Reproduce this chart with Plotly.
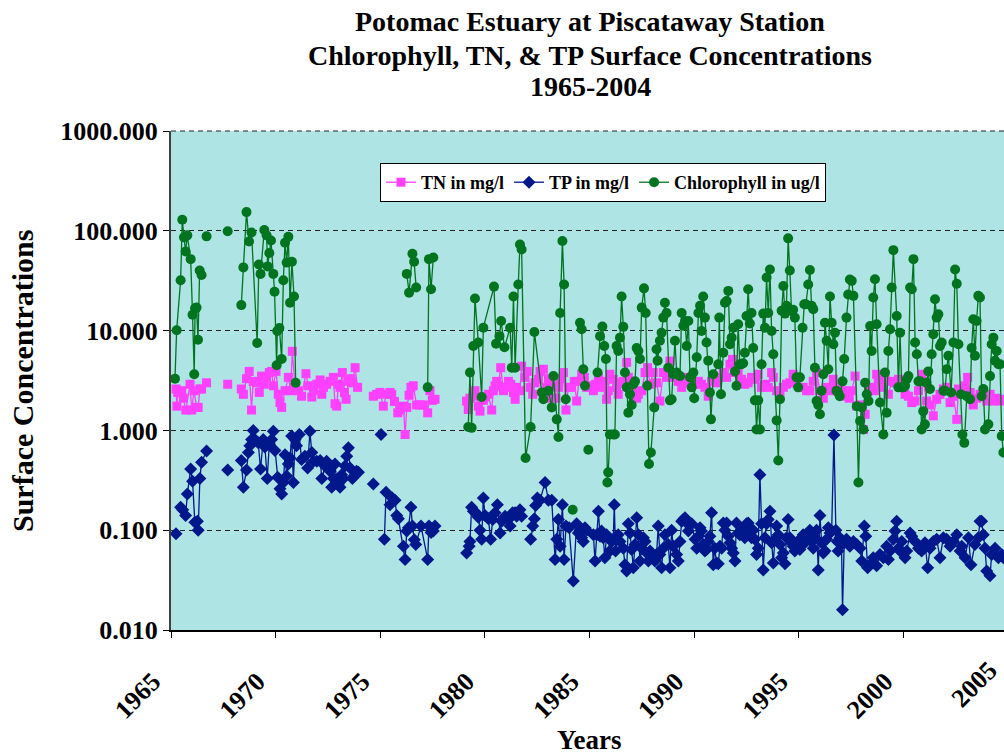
import plotly.graph_objects as go

# ---------------- data ----------------
tn_year = [1965.24, 1965.28, 1965.32, 1965.51, 1965.59, 1965.71, 1965.91, 1965.99, 1966.10, 1966.22, 1966.30, 1966.38, 1966.46, None,
           1966.70, None, 1967.71, None,
           1968.36, 1968.46, 1968.61, 1968.74, 1968.85, 1968.93, 1969.09, 1969.22, 1969.33, 1969.46, 1969.57, 1969.70, 1969.81, 1969.89,
           1970.02, 1970.13, 1970.21, 1970.29, 1970.45, 1970.61, 1970.72, 1970.80, 1970.93, 1971.08, 1971.24, 1971.45, 1971.56, 1971.73,
           1971.81, 1971.97, 1972.13, 1972.21, 1972.29, 1972.44, 1972.60, 1972.76, 1972.84, 1972.92, 1973.00, 1973.08, 1973.19, 1973.29,
           1973.37, 1973.48, 1973.61, 1973.67, 1973.80, 1973.92, None,
           1974.67, 1974.83, 1974.99, 1975.15, 1975.31, 1975.47, 1975.55, 1975.68, 1975.84, 1975.95, 1976.11, 1976.19, 1976.27, 1976.38,
           1976.47, 1976.58, 1976.74, 1976.90, 1977.06, 1977.27, 1977.38, 1977.49, 1977.62, None,
           1979.13, 1979.21, 1979.29, 1979.45, 1979.53, 1979.69, 1979.77, 1979.93, 1980.01, 1980.17, 1980.33, 1980.41, 1980.49, 1980.57,
           1980.65, 1980.76, 1980.89, 1980.97, 1981.13, 1981.24, 1981.37, 1981.45, 1981.52, 1981.68, 1981.76, 1981.92, 1982.03, 1982.16,
           1982.29, 1982.40, 1982.56, 1982.64, 1982.80, 1982.93, 1983.04, 1983.15, 1983.28, 1983.40, 1983.52, 1983.63, 1983.76, 1983.88,
           1983.99, 1984.15, 1984.28,
           1984.39, 1984.50, 1984.63, 1984.76, 1984.87, 1985.03, 1985.19, 1985.30, 1985.43, 1985.58, 1985.71, 1985.82, 1985.90, 1985.98,
           1986.14, 1986.30, 1986.38, 1986.46, 1986.62, 1986.78, 1986.86, 1986.94, 1987.10, 1987.26, 1987.34, 1987.50, 1987.66, 1987.78,
           1987.90, 1988.05, 1988.21, 1988.37, 1988.53, 1988.69, 1988.85, 1988.93, 1989.09, 1989.25, 1989.41, 1989.57, 1989.73, 1989.89,
           1990.05, 1990.21, 1990.36, 1990.52, 1990.68, 1990.84,
           1991.08, 1991.24, 1991.40, 1991.56, 1991.72, 1991.84, 1991.96, 1992.11, 1992.27, 1992.43, 1992.59, 1992.75, 1992.91, 1993.07,
           1993.23, 1993.39, 1993.55, 1993.71, 1993.79, 1993.95, 1994.11, 1994.27, 1994.42, 1994.58, 1994.74, 1994.90, 1995.06, 1995.22,
           1995.38, 1995.54, 1995.70, 1995.86, 1996.02, 1996.18, 1996.34, 1996.50, 1996.66, 1996.81, 1996.97, 1997.13, 1997.29, 1997.42,
           1997.54, 1997.70, 1997.78, 1997.94, 1998.10, 1998.18, 1998.34, 1998.49, 1998.65, 1998.73, 1998.81, 1998.97, 1999.13, 1999.29,
           1999.45, 1999.61, 1999.77, 1999.93, 2000.09, 2000.25, 2000.41, 2000.57, 2000.73, 2000.88, 2000.96, 2001.12, 2001.28, 2001.44,
           2001.60, 2001.76, 2001.92, 2002.08, 2002.24, 2002.40, 2002.56, 2002.64, 2002.80, 2002.96, 2003.08, 2003.20, 2003.35, 2003.51,
           2003.67, 2003.83, 2003.99, 2004.15, 2004.31, 2004.47, 2004.63, 2004.79]
tn_value = [2.6, 1.75, 2.4, 2.5, 2.1, 1.6, 2.9, 1.6, 2.5, 1.7, 1.7, 2.6, 2.6, None,
            3.0, None, 2.9, None,
            2.6, 2.3, 3.3, 3.9, 1.6, 3.1, 3.0, 2.4, 3.5, 2.9, 3.4, 3.8, 3.9, 2.8,
            3.9, 2.3, 1.9, 1.7, 2.5, 3.4, 2.5, 6.2, 2.7, 2.5, 2.2, 3.7, 2.8, 2.16,
            2.5, 2.9, 3.2, 2.3, 2.7, 2.9, 3.1, 3.4, 1.85, 1.75, 2.9, 2.7, 3.8, 2.4,
            2.05, 3.1, 3.3, 3.0, 4.25, 2.7, None,
            2.2, 2.3, 2.4, 1.75, 2.3, 2.4, 2.3, 1.95, 1.5, 1.6, 1.75, 0.91, 1.7, 2.25,
            2.7, 2.8, 1.8, 1.8, 1.8, 1.5, 2.5, 2.0, 2.05, None,
            1.97, 1.62, 2.1, 2.2, 2.5, 1.75, 1.56, 2.0, 2.16, 2.3, 1.6, 2.5, 2.8, 3.1,
            2.8, 4.25, 2.5, 2.7, 3.1, 2.9, 2.4, 2.05, 2.7, 2.5, 4.4, 3.4, 3.9, 2.7,
            2.3, 3.0, 3.25, 3.9, 4.1, 2.7, 3.3, 2.1, 2.8, 2.1, 2.7, 3.3, 3.8, 1.6,
            2.7, 2.7, 3.1,
            1.97, 3.1, 3.65, 3.4, 2.7, 2.8, 2.5, 2.9, 3.4, 2.7, 3.1, 2.05, 2.5, 3.65,
            3.25, 2.7, 2.3, 3.0, 3.1, 4.8, 3.4, 2.9, 2.8, 2.1, 2.3, 2.5, 3.8, 4.25,
            2.9, 3.8, 3.0, 1.97, 3.8, 3.4, 4.95, 3.8, 3.4, 3.1, 2.7, 3.0, 3.4, 3.25,
            2.9, 3.1, 2.9, 2.7, 2.2, 3.1,
            3.0, 3.4, 3.8, 3.4, 4.6, 5.15, 3.8, 3.9, 3.25, 2.9, 3.0, 3.4, 3.25, 3.65,
            2.7, 2.9, 2.7, 3.8, 3.4, 2.5, 2.3, 2.7, 2.9, 3.0, 3.65, 3.1, 2.7, 2.7,
            2.5, 2.5, 3.1, 3.8, 2.5, 2.1, 2.7, 2.5, 3.25, 2.7, 2.5, 2.5, 2.2, 2.1,
            2.5, 3.5, 1.75, 1.8, 1.02, 1.45, 2.5, 2.7, 2.5, 3.65, 3.1, 2.7, 3.25, 2.3,
            3.1, 3.0, 3.25, 2.9, 2.3, 2.2, 1.9, 1.97, 2.5, 3.65, 3.1, 1.97, 1.8, 1.4,
            2.05, 2.3, 2.6, 2.7, 1.9, 2.2, 1.29, 2.6, 2.5, 2.8, 3.4, 2.4, 1.8, 2.1,
            2.3, 2.5, 1.97, 2.3, 1.97, 2.1, 1.97, 2.05]

tp_year = [1965.24, None,
           1965.46, 1965.56, 1965.70, 1965.78, 1965.94, 1966.03, 1966.14, 1966.26, 1966.30, 1966.38, 1966.46, 1966.70, None,
           1967.71, None,
           1968.36, 1968.46, 1968.61, 1968.70, 1968.77, 1968.85, 1968.93, 1969.01, 1969.17, 1969.28, 1969.41, 1969.49, 1969.60, 1969.70,
           1969.81, 1969.89, 1969.97, 1970.10, 1970.21, 1970.29, 1970.37, 1970.45, 1970.53, 1970.61, 1970.69, 1970.77, 1970.85, 1970.93,
           1971.00, 1971.13, 1971.24, 1971.40, 1971.53, 1971.64, 1971.73, 1971.81, 1971.97, 1972.13, 1972.21, 1972.36, 1972.44, 1972.60,
           1972.68, 1972.76, 1972.84, 1972.92, 1973.00, 1973.08, 1973.16, 1973.24, 1973.32, 1973.40, 1973.48, 1973.56, 1973.67, 1973.76,
           1973.87, 1973.96, None, 1974.67, None, 1975.04, None,
           1975.20, 1975.28, 1975.47, 1975.58, 1975.71, 1975.79, 1975.87, 1976.11, 1976.19, 1976.27, 1976.35, 1976.47, 1976.54, 1976.63,
           1976.70, 1976.95, 1977.27, 1977.33, 1977.43, 1977.54, 1977.62, None,
           1979.13, 1979.25, 1979.29, 1979.37, 1979.45, 1979.58, 1979.69, 1979.77, 1979.85, 1979.93, 1980.01, 1980.17, 1980.28, 1980.38,
           1980.49, 1980.60, 1980.73, 1980.81, 1980.97, 1981.13, 1981.21, 1981.33, 1981.45, 1981.52, 1981.68, 1981.76, None,
           1982.19, 1982.29, 1982.37, 1982.43, 1982.51, 1982.64, 1982.88, 1983.04, 1983.20, 1983.36, 1983.44, 1983.52, 1983.60, 1983.71,
           1983.79, 1983.88, 1984.03, 1984.23,
           1984.39, 1984.47, 1984.55, 1984.63, 1984.71, 1984.79, 1984.87, 1985.19, 1985.27, 1985.35, 1985.43, 1985.51, 1985.58, 1985.66,
           1985.74, 1985.82, 1985.90, 1985.98, 1986.06, 1986.14, 1986.19, 1986.25, 1986.38, 1986.46, 1986.62, 1986.70, 1986.78, 1986.86,
           1986.94, 1987.02, 1987.10, 1987.18, 1987.26, 1987.34, 1987.42, 1987.50, 1987.58, 1987.66, 1987.74, 1987.82, 1987.90, 1987.97,
           1988.13, 1988.21, 1988.29, 1988.37, 1988.45, 1988.53, 1988.61, 1988.77, 1988.85, 1988.93, 1989.01, 1989.17, 1989.25, 1989.33,
           1989.41, 1989.49, 1989.57, 1989.65, 1989.73, 1989.89, 1990.05, 1990.13, 1990.21, 1990.29, 1990.36, 1990.44, 1990.52, 1990.60,
           1990.68, 1990.76, 1990.84, 1990.92, 1990.99,
           1991.08, 1991.16, 1991.24, 1991.32, 1991.40, 1991.48, 1991.56, 1991.64, 1991.72, 1991.80, 1991.88, 1991.96, 1992.03, 1992.11,
           1992.19, 1992.27, 1992.35, 1992.43, 1992.51, 1992.59, 1992.67, 1992.75, 1992.83, 1992.91, 1992.99, 1993.07, 1993.15, 1993.23,
           1993.31, 1993.39, 1993.47, 1993.55, 1993.63, 1993.71, 1993.79, 1993.87, 1993.95, 1994.03, 1994.11, 1994.19, 1994.27, 1994.35,
           1994.42, 1994.50, 1994.58, 1994.66, 1994.74, 1994.82, 1994.90, 1994.98, 1995.06, 1995.14, 1995.22, 1995.30, 1995.38, 1995.46,
           1995.54, 1995.62, 1995.70, 1995.78, 1995.86, 1995.94, 1996.02, 1996.10, 1996.18, 1996.26, 1996.34, 1996.42, 1996.50, 1996.58,
           1996.69, 1996.78, 1996.85, 1996.89, 1996.97, 1997.05, 1997.10, 1997.18, 1997.29, 1997.37, 1997.45,
           1997.62, 1997.78, 1997.94, 1998.02, 1998.14, 1998.21, 1998.30, 1998.42, 1998.57, 1998.73, 1998.89, 1999.05, 1999.21, 1999.29,
           1999.37, 1999.53, 1999.61, 1999.69, 1999.77, 1999.85, 1999.93, 2000.09, 2000.17, 2000.33, 2000.41, 2000.57, 2000.73, 2000.88,
           2001.04, 2001.17, 2001.28, 2001.44, 2001.60, 2001.76, 2001.92, 2002.08, 2002.24, 2002.40, 2002.56, 2002.72, 2002.80, 2002.96,
           2003.12, 2003.24, 2003.43, 2003.59, 2003.67, 2003.75, 2003.83, 2003.91, 2003.99, 2004.15, 2004.23, 2004.39, 2004.55, 2004.71,
           2004.79]
tp_value = [0.092, None,
            0.17, 0.16, 0.14, 0.23, 0.41, 0.31, 0.12, 0.123, 0.10, 0.33, 0.48, 0.62, None,
            0.40, None,
            0.50, 0.27, 0.40, 0.60, 0.70, 0.81, 1.0, 0.81, 0.75, 0.41, 0.81, 0.68, 0.33, 0.73,
            0.81, 0.98, 0.63, 0.34, 0.26, 0.23, 0.30, 0.57, 0.35, 0.46, 0.53, 0.88, 0.30, 0.81,
            0.70, 0.91, 0.51, 0.55, 0.42, 0.98, 0.60, 0.49, 0.49, 0.50, 0.33, 0.44, 0.49, 0.39,
            0.27, 0.33, 0.46, 0.30, 0.29, 0.27, 0.36, 0.33, 0.44, 0.55, 0.67, 0.42, 0.33, 0.35,
            0.39, 0.38, None, 0.29, None, 0.91, None,
            0.081, 0.24, 0.18, 0.21, 0.20, 0.14, 0.13, 0.069, 0.051, 0.098, 0.106, 0.17, 0.11, 0.080,
            0.072, 0.11, 0.051, 0.11, 0.095, 0.098, 0.11, None,
            0.059, 0.069, 0.077, 0.17, 0.155, 0.15, 0.135, 0.10, 0.081, 0.21, 0.14, 0.13, 0.081, 0.128,
            0.15, 0.18, 0.094, 0.123, 0.138, 0.128, 0.11, 0.15, 0.15, 0.138, 0.16, 0.138, None,
            0.081, 0.11, 0.13, 0.177, 0.21, 0.20, 0.30, 0.20, 0.20, 0.051, 0.081, 0.128, 0.069, 0.18,
            0.051, 0.11, 0.106, 0.031,
            0.116, 0.094, 0.10, 0.084, 0.077, 0.106, 0.10, 0.09, 0.049, 0.09, 0.155, 0.087, 0.098, 0.084,
            0.053, 0.09, 0.084, 0.062, 0.077, 0.081, 0.18, 0.062, 0.09, 0.077, 0.066, 0.045, 0.039, 0.116,
            0.094, 0.064, 0.042, 0.072, 0.133, 0.09, 0.049, 0.066, 0.084, 0.077, 0.059, 0.049, 0.062, 0.057,
            0.049, 0.057, 0.11, 0.057, 0.042, 0.066, 0.09, 0.072, 0.042, 0.10, 0.069, 0.057, 0.049, 0.077,
            0.123, 0.128, 0.133, 0.118, 0.098, 0.116, 0.081, 0.066, 0.087, 0.106, 0.098, 0.072, 0.062, 0.064,
            0.077, 0.087, 0.15, 0.045, 0.066,
            0.047, 0.046, 0.069, 0.066, 0.118, 0.10, 0.118, 0.087, 0.075, 0.066, 0.059, 0.049, 0.118, 0.094,
            0.09, 0.10, 0.094, 0.084, 0.116, 0.118, 0.10, 0.084, 0.10, 0.081, 0.057, 0.066, 0.36, 0.116,
            0.04, 0.084, 0.116, 0.128, 0.155, 0.075, 0.047, 0.081, 0.11, 0.09, 0.072, 0.053, 0.059, 0.046,
            0.084, 0.128, 0.084, 0.075, 0.069, 0.062, 0.072, 0.077, 0.064, 0.084, 0.09, 0.075, 0.081, 0.094,
            0.10, 0.077, 0.066, 0.084, 0.10, 0.04, 0.14, 0.075, 0.059, 0.062, 0.081, 0.106, 0.094, 0.098,
            0.90, 0.10, 0.077, 0.062, 0.084, 0.072, 0.016, 0.075, 0.081, 0.075, 0.069,
            0.077, 0.072, 0.066, 0.049, 0.11, 0.087, 0.042, 0.045, 0.053, 0.044, 0.057, 0.053, 0.069, 0.051,
            0.062, 0.081, 0.098, 0.123, 0.066, 0.062, 0.077, 0.053, 0.062, 0.094, 0.087, 0.077, 0.066, 0.062,
            0.075, 0.042, 0.066, 0.077, 0.081, 0.053, 0.084, 0.081, 0.069, 0.077, 0.09, 0.062, 0.069, 0.053,
            0.084, 0.045, 0.072, 0.084, 0.123, 0.123, 0.09, 0.066, 0.039, 0.035, 0.057, 0.066, 0.053, 0.057,
            0.053]

chl_year = [1965.19, 1965.27, 1965.46, 1965.54, 1965.62, 1965.70, 1965.78, 1965.94, 1966.03, 1966.11, 1966.15, 1966.22, 1966.29,
            1966.37, 1966.46, None, 1966.70, None, 1967.71, None,
            1968.36, 1968.46, 1968.61, 1968.73, 1968.85, 1969.12, 1969.20, 1969.28, 1969.46, 1969.57, 1969.62, 1969.70, 1969.78,
            1969.89, 1969.95, 1970.05, 1970.08, 1970.18, 1970.29, 1970.37, 1970.45, 1970.53, 1970.61, 1970.69, 1970.78, 1970.88,
            1970.96, None,
            1976.27, 1976.38, 1976.54, 1976.62, 1976.72, None, 1977.27, 1977.33, 1977.43, 1977.54, None,
            1979.21, 1979.29, 1979.37, 1979.45, 1979.53, 1979.69, 1979.85, 1979.93, 1980.44, 1980.54, 1980.70, 1980.78, 1980.94,
            1981.21, 1981.29, 1981.37, 1981.45, 1981.60, 1981.68, 1981.76, 1981.95, 1982.19, 1982.37, 1982.72, 1982.80, 1983.04,
            1983.20, 1983.28, 1983.44, 1983.52, 1983.60, 1983.71, 1983.79, 1983.87, None, 1984.20, None,
            1984.55, 1984.63, 1984.71, 1984.79, None, 1984.95, None,
            1985.39, 1985.51, 1985.62, 1985.71, 1985.79, 1985.86, 1985.90, 1985.98, 1986.14, 1986.22, 1986.30, 1986.38, 1986.46,
            1986.54, 1986.62, 1986.70, 1986.78, 1986.86, 1986.94, 1987.02, 1987.10, 1987.18, 1987.26, 1987.34, 1987.42, 1987.50,
            1987.61, 1987.69, 1987.77, 1987.85, 1987.94, 1988.10, 1988.21, 1988.26, 1988.37, 1988.45, 1988.53, 1988.61, 1988.69,
            1988.77, 1988.85, 1988.93, 1989.01, 1989.09, 1989.17, 1989.33, 1989.41, 1989.49, 1989.57, 1989.65, 1989.73, 1989.81,
            1989.89, 1989.97, 1990.01, 1990.13, 1990.21, 1990.29, 1990.36, 1990.44, 1990.52, 1990.60, 1990.68, 1990.76, 1990.81,
            1990.92,
            1991.16, 1991.21, 1991.29, 1991.40, 1991.48, 1991.56, 1991.64, 1991.72, 1991.80, 1991.88, 1991.96, 1992.03, 1992.11,
            1992.19, 1992.27, 1992.35, 1992.43, 1992.51, 1992.59, 1992.67, 1992.75, 1992.83, 1992.91, 1992.99, 1993.07, 1993.15,
            1993.23, 1993.31, 1993.39, 1993.47, 1993.55, 1993.63, 1993.71, 1993.79, 1993.95, 1994.03, 1994.11, 1994.19, 1994.27,
            1994.35, 1994.42, 1994.50, 1994.58, 1994.66, 1994.74, 1994.82, 1994.90, 1994.98, 1995.06, 1995.19, 1995.27, 1995.35,
            1995.46, 1995.54, 1995.62, 1995.70, 1995.78, 1995.86, 1995.94, 1996.02, 1996.10, 1996.18, 1996.26, 1996.34, 1996.42,
            1996.50, 1996.58, 1996.66, 1996.74, 1996.81, 1996.89, 1996.97, 1997.10, 1997.18, 1997.29, 1997.37, 1997.45,
            1997.54, 1997.62, 1997.78, 1997.86, 1997.94, 1998.02, 1998.10, 1998.18, 1998.26, 1998.34, 1998.42, 1998.49, 1998.57,
            1998.65, 1998.73, 1998.89, 1999.05, 1999.13, 1999.21, 1999.29, 1999.37, 1999.45, 1999.53, 1999.69, 1999.77, 1999.85,
            1999.93, 2000.01, 2000.09, 2000.17, 2000.25, 2000.33, 2000.41, 2000.49, 2000.57, 2000.65, 2000.73, 2000.81, 2000.88,
            2000.96, 2001.04, 2001.12, 2001.20, 2001.28, 2001.36, 2001.44, 2001.52, 2001.60, 2001.68, 2001.76, 2001.84, 2001.92,
            2002.00, 2002.08, 2002.16, 2002.29, 2002.40, 2002.48, 2002.56, 2002.64, 2002.76, 2002.83, 2002.92, 2003.04, 2003.20,
            2003.27, 2003.35, 2003.43, 2003.51, 2003.59, 2003.67, 2003.75, 2003.83, 2003.91, 2004.07, 2004.15, 2004.23, 2004.31,
            2004.39, 2004.47, 2004.55, 2004.63, 2004.71, 2004.79]
chl_value = [3.3, 10.1, 32, 129, 86, 62, 90, 52, 14.4, 3.65, 16.7, 17, 8.1,
             40, 36, None, 88, None, 99, None,
             18, 43, 154, 78, 96, 7.5, 46, 37, 102, 90, 44, 60, 80,
             37, 24.5, 4.5, 9.9, 10.6, 5.2, 32, 76, 48, 87, 19, 49, 22,
             3.0, None,
             37, 24, 59, 49, 27, None, 2.7, 52, 26, 54, None,
             1.08, 3.8, 1.06, 7.0, 21, 7.6, 2.16, 10.7, 27.6, 7.4, 8.8, 12.5, 6.8,
             10.7, 4.25, 22, 4.25, 29, 73, 65, 0.53, 1.08, 9.7, 2.4, 2.05, 2.5,
             1.7, 3.5, 1.29, 0.86, 15, 79, 29, 2.05, None, 0.16, None,
             12, 10.3, 4.1, 2.8, None, 0.64, None,
             3.8, 8.8, 11, 7.0, 5.2, 0.30, 0.38, 0.91, 0.91, 0.91, 7.0, 6.25, 8.5,
             22, 10.9, 3.8, 2.7, 1.5, 2.3, 1.8, 2.9, 3.1, 6.7, 6.25, 5.2, 17,
             26.5, 15, 2.8, 0.46, 0.60, 1.7, 6.5, 5.0, 7.9, 9.5, 13.5, 19, 15,
             4.25, 2.0, 2.05, 3.65, 7.9, 3.8, 3.5, 15, 11.2, 12.5, 7.0, 12.5, 3.4,
             2.7, 3.8, 2.1, 5.4, 15, 17.7, 9.9, 22, 13.5, 7.6, 5.0, 2.4, 1.29,
             3.65,
             4.6, 13.5, 2.3, 6.0, 19, 19.8, 25, 7.3, 8.5, 10.7, 3.9, 2.8, 11.6,
             4.6, 4.6, 4.7, 6.0, 14, 26, 11.8, 15, 6.7, 2.0, 1.02, 2.0, 1.02,
             4.6, 14.8, 10.7, 34, 15, 41, 9.9, 5.8, 1.26, 0.50, 2.05, 15.8, 28,
             14.8, 17.7, 84, 40, 15.8, 16.2, 13.5, 3.4, 2.7, 3.4, 10.7, 18.4, 18.4,
             29, 40.5, 17.7, 16.4, 4.25, 1.97, 1.8, 1.45, 2.5, 3.65, 12, 7.9, 4.1,
             22, 12, 7.3, 9.5, 2.5, 2.4, 2.2, 3.1, 5.2, 13.5, 23, 32.5,
             31.5, 22.3, 1.75, 0.30, 1.24, 1.7, 1.02, 3.0, 2.3, 1.97, 11.1, 6.25, 21.5,
             32.7, 11.6, 1.9, 0.91, 3.8, 1.5, 6.25, 10.3, 27, 64, 14, 2.7, 9.5,
             2.7, 2.7, 2.8, 3.25, 3.5, 27, 26, 52, 7.6, 5.8, 3.1, 3.1, 1.02,
             1.56, 1.15, 3.0, 3.9, 2.6, 5.8, 9.2, 20.6, 13.5, 14.6, 7.0, 7.6, 2.5,
             2.5, 4.1, 5.6, 2.4, 7.6, 41, 29.5, 7.3, 2.3, 0.91, 0.75, 2.2, 2.05,
             6.7, 13, 5.6, 12.5, 22.3, 21.5, 2.2, 2.6, 1.02, 1.15, 3.5, 7.3, 8.5,
             5.0, 6.25, 4.6, 4.6, 0.88, 0.60]

x_tick_years = [1965, 1970, 1975, 1980, 1985, 1990, 1995, 2000]
x_tick_labels = ["1965", "1970", "1975", "1980", "1985", "1990", "1995", "2000"]
last_tick_label = "2005"
y_tick_values = [0.01, 0.1, 1, 10, 100, 1000]
y_tick_labels = ["0.010", "0.100", "1.000", "10.000", "100.000", "1000.000"]
title_lines = ["Potomac Estuary at Piscataway Station",
               "Chlorophyll, TN, & TP Surface Concentrations",
               "1965-2004"]

# ---------------- styling ----------------
SERIF = "Liberation Serif, Times New Roman, serif"
TN_COLOR = "#FF40FF"
TP_COLOR = "#00188C"
CHL_COLOR = "#00741F"

fig = go.Figure()
fig.add_trace(go.Scatter(x=tn_year, y=tn_value, mode="lines+markers", name="TN in mg/l",
                         line=dict(color=TN_COLOR, width=1.3),
                         marker=dict(symbol="square", size=9, color=TN_COLOR)))
fig.add_trace(go.Scatter(x=tp_year, y=tp_value, mode="lines+markers", name="TP in mg/l",
                         line=dict(color=TP_COLOR, width=1.3),
                         marker=dict(symbol="diamond", size=10, color=TP_COLOR)))
fig.add_trace(go.Scatter(x=chl_year, y=chl_value, mode="lines+markers", name="Chlorophyll in ug/l",
                         line=dict(color=CHL_COLOR, width=1.3),
                         marker=dict(symbol="circle", size=10, color=CHL_COLOR)))

L, T, W, H = 171, 131, 1004, 755
PW = W - L
PH = 630 - T

def px_x(p):
    return (p - L) / PW

def px_y(p):
    return (630 - p) / PH

annotations = []
for txt, yc in zip(title_lines, [22, 55, 87]):
    annotations.append(dict(text=txt, xref="paper", yref="paper", x=px_x(590), y=px_y(yc),
                            xanchor="center", yanchor="middle", showarrow=False,
                            font=dict(family=SERIF, size=28, color="black", weight="bold")))
annotations.append(dict(text="Years", xref="paper", yref="paper", x=px_x(589), y=px_y(740),
                        xanchor="center", yanchor="middle", showarrow=False,
                        font=dict(family=SERIF, size=27, color="black", weight="bold")))
annotations.append(dict(text="Surface Concentrations", xref="paper", yref="paper", x=px_x(22), y=px_y(381),
                        xanchor="center", yanchor="middle", showarrow=False, textangle=-90,
                        font=dict(family=SERIF, size=30, color="black", weight="bold")))
annotations.append(dict(text=last_tick_label, xref="paper", yref="paper", x=px_x(974), y=px_y(684),
                        xanchor="center", yanchor="middle", showarrow=False, textangle=-45,
                        font=dict(family=SERIF, size=26, color="black", weight="bold")))

fig.update_layout(
    width=W, height=H,
    margin=dict(l=L, r=0, t=T, b=H - 630, pad=0),
    paper_bgcolor="white",
    plot_bgcolor="#AEE4E4",
    showlegend=True,
    legend=dict(orientation="h", x=px_x(380), y=px_y(163), xanchor="left", yanchor="top",
                bgcolor="white", bordercolor="black", borderwidth=1,
                font=dict(family=SERIF, size=18, color="black", weight="bold"),
                itemwidth=30, tracegroupgap=0),
    annotations=annotations,
    shapes=[dict(type="line", xref="paper", yref="paper", x0=0, x1=1, y0=1, y1=1,
                 line=dict(color="#222222", width=1, dash="5px,4px"))],
)
fig.update_xaxes(range=[1965, 1965 + (W - L) / 20.92], tickmode="array",
                 tickvals=x_tick_years, ticktext=x_tick_labels, tickangle=-45,
                 ticks="outside", ticklen=6, tickcolor="black", tickwidth=1,
                 ticklabelshift=-18, ticklabelstandoff=18,
                 showgrid=False, zeroline=False, showline=True, linecolor="black", linewidth=2,
                 tickfont=dict(family=SERIF, size=26, color="black", weight="bold"))
fig.update_yaxes(type="log", range=[-2, 3], tickmode="array",
                 tickvals=y_tick_values, ticktext=y_tick_labels,
                 ticks="outside", ticklen=6, tickcolor="black", tickwidth=1,
                 showgrid=True, gridcolor="#222222", griddash="5px,4px", gridwidth=1,
                 zeroline=False, showline=True, linecolor="#404040", linewidth=2,
                 tickfont=dict(family=SERIF, size=26, color="black", weight="bold"))

fig.write_html("out.html")
